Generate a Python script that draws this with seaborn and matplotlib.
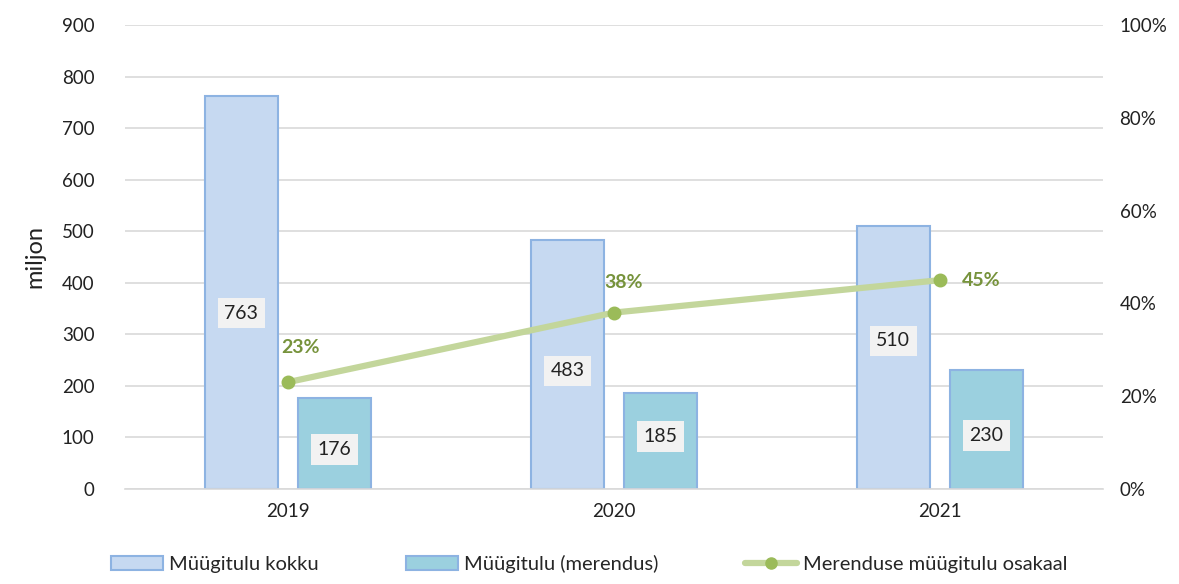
import matplotlib
matplotlib.use("Agg")
import matplotlib.pyplot as plt
import seaborn as sns
import pandas as pd
from matplotlib.patches import Patch
from matplotlib.lines import Line2D

years = ["2019", "2020", "2021"]
total = [763, 483, 510]
seafood = [176, 185, 230]
share = [0.23, 0.38, 0.45]
series_names = ["Müügitulu kokku", "Müügitulu (merendus)", "Merenduse müügitulu osakaal"]
left_ticks = list(range(0, 1000, 100))
right_ticks = [0, 0.2, 0.4, 0.6, 0.8, 1.0]
# vertical anchor of the value labels inside the bars (data units)
total_label_y = [341, 229, 287]
seafood_label_y = [76, 101, 103]

sns.set_theme(style="white")
plt.rcParams['font.family'] = ['Lato', 'DejaVu Sans']

c_total, c_sea, c_edge = "#C6D9F1", "#9BD0DF", "#8DB3E2"
c_line, c_mark, c_txt = "#C3D69B", "#9BBB59", "#77933C"

df = pd.DataFrame({
    "year": years * 2,
    "value": total + seafood,
    "series": [series_names[0]] * 3 + [series_names[1]] * 3,
})

fig = plt.figure(figsize=(11.79, 5.84), dpi=100)
ax = fig.add_axes([0.106, 0.163, 0.8295, 0.794])

sns.barplot(data=df, x="year", y="value", hue="series", ax=ax,
            palette=[c_total, c_sea], width=0.572, gap=0.217, saturation=1,
            edgecolor=c_edge, linewidth=1.5, legend=False, errorbar=None)

ax.set_ylim(0, 900)
ax.set_yticks(left_ticks)
ax.set_xlim(-0.5, 2.5)
ax.grid(axis="y", color="#D9D9D9", linewidth=1.2)
ax.set_axisbelow(True)
for s in ["top", "left", "right"]:
    ax.spines[s].set_visible(False)
ax.spines["bottom"].set_color("#D9D9D9")
ax.spines["bottom"].set_linewidth(1.2)
ax.tick_params(axis="both", length=0, labelsize=13.5, colors="#222222")
ax.tick_params(axis="x", pad=10)
ax.tick_params(axis="y", pad=22)
ax.set_xlabel("")
ax.set_ylabel("miljon", fontsize=17, color="#222222", labelpad=12)

# value labels with grey boxes
for cont, vals, ys in zip(ax.containers, [total, seafood], [total_label_y, seafood_label_y]):
    for rect, v, yy in zip(cont, vals, ys):
        cx = rect.get_x() + rect.get_width() / 2
        ax.text(cx, yy, f"{v}", ha="center", va="center", fontsize=14,
                color="#222222",
                bbox=dict(boxstyle="square,pad=0.35", facecolor="#F2F2F2", edgecolor="none"))

ax2 = ax.twinx()
sns.pointplot(x=years, y=share, ax=ax2, color=c_line, markers="", linewidth=4.5, errorbar=None)
sns.pointplot(x=years, y=share, ax=ax2, color=c_mark, markers="o", linestyle="none",
              markersize=8, errorbar=None)
ax2.set_ylim(0, 1.0)
ax2.set_yticks(right_ticks)
ax2.set_yticklabels([f"{int(t*100)}%" for t in right_ticks])
ax2.set_xlim(-0.5, 2.5)
ax2.set_ylabel("")
ax2.set_xlabel("")
for s in ["top", "left", "right", "bottom"]:
    ax2.spines[s].set_visible(False)
ax2.tick_params(axis="y", length=0, labelsize=13.5, colors="#222222", pad=12)
ax2.grid(False)

offsets = [(-5, 25, "left"), (-7, 22, "left"), (16, 0, "left")]
for i, (p, (dx, dy, ha)) in enumerate(zip(share, offsets)):
    ax2.annotate(f"{int(round(p*100))}%", (i, p), xytext=(dx, dy), textcoords="offset points",
                 ha=ha, va="center", fontsize=14, fontweight="bold", color=c_txt)

handles = [
    Patch(facecolor=c_total, edgecolor=c_edge, linewidth=1.5),
    Patch(facecolor=c_sea, edgecolor=c_edge, linewidth=1.5),
    Line2D([0], [0], color=c_line, linewidth=4.5, marker="o", markersize=8,
           markerfacecolor=c_mark, markeredgecolor=c_mark),
]
fig.legend(handles, series_names, loc="lower center", bbox_to_anchor=(0.5, -0.012),
           ncol=3, frameon=False, fontsize=14.5, columnspacing=4.3, handlelength=2.6,
           handletextpad=0.3)

fig.savefig("out.png", dpi=100)
